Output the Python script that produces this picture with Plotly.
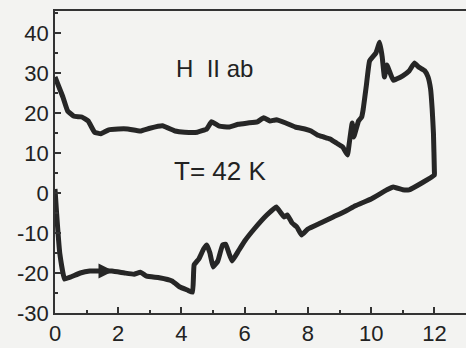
import plotly.graph_objects as go

# lower branch (field increasing)
lower_x = [0, 0.05, 0.15, 0.3, 0.5, 0.8, 1.1, 1.4, 1.8, 2.2, 2.5, 2.7, 2.9, 3.3, 3.7, 3.95, 4.2, 4.35,
           4.4, 4.55, 4.7, 4.8, 4.9, 5.0, 5.15, 5.3, 5.4, 5.5, 5.6, 5.8, 6.0, 6.3, 6.7, 7.0, 7.1, 7.25,
           7.35, 7.5, 7.65, 7.8, 8.0, 8.4, 8.8, 9.2, 9.5, 10.0, 10.5, 10.7, 11.0, 11.2, 11.6, 12.0]
lower_y = [1, -5, -15, -21.5, -21, -20, -19.5, -19.5, -19.5, -20, -20.3, -19.8, -20.8, -21.2, -22, -23.5,
           -24.3, -24.8, -18, -16.5, -14, -13, -15, -18.5, -17, -13, -12.8, -15, -17, -14.5, -12, -9,
           -5.5, -3.5, -4.5, -6, -5.5, -7.5, -8.5, -10.5, -9, -7.5, -6, -4.5, -3.2, -1.5, 0.8, 1.5,
           0.8, 0.8, 2.5, 4.5]

# upper branch (field decreasing)
upper_x = [12.0, 11.97, 11.93, 11.88, 11.8, 11.7, 11.5, 11.37, 11.2, 11.0, 10.8, 10.7, 10.6, 10.5,
           10.42, 10.35, 10.27, 10.15, 9.95, 9.85, 9.75, 9.7, 9.6, 9.45, 9.4, 9.3, 9.25, 9.1, 8.9,
           8.7, 8.5, 8.3, 8.1, 7.9, 7.6, 7.3, 7.0, 6.8, 6.6, 6.4, 6.1, 5.8, 5.5, 5.2, 4.95, 4.8, 4.5,
           4.1, 3.8, 3.4, 3.0, 2.7, 2.3, 2.0, 1.7, 1.45, 1.25, 1.05, 0.85, 0.6, 0.4, 0.25, 0.1, 0]
upper_y = [5.5, 15, 21, 26, 29, 30.5, 31.5, 32.5, 30.5, 29.3, 28.5, 28.2, 30, 32, 29, 34, 37.7, 35,
           33, 27, 21, 19, 18, 14, 17.5, 12, 9.5, 11.5, 12.5, 13.5, 14, 14.5, 15.5, 16, 16.5, 17.5,
           18.3, 18, 18.8, 17.8, 17.5, 17.2, 16.5, 16.7, 17.8, 16, 15.2, 15.2, 15.5, 16.8, 16.2, 15.5,
           16, 16, 15.8, 14.8, 15.2, 18, 19, 19.2, 20.5, 24, 27, 29]

x_ticks = [0, 2, 4, 6, 8, 10, 12]
x_labels = ["0", "2", "4", "6", "8", "10", "12"]
y_ticks = [-30, -20, -10, 0, 10, 20, 30, 40]
y_labels = ["-30", "-20", "-10", "0", "10", "20", "30", "40"]

line_col = "#262626"
bg = "#f3f3f1"
font = dict(family="Liberation Sans, Arial, sans-serif", size=22, color="#222")

fig = go.Figure()
fig.add_trace(go.Scatter(x=lower_x + upper_x, y=lower_y + upper_y, mode="lines",
                         line=dict(color=line_col, width=5, shape="spline", smoothing=0.3),
                         showlegend=False))

fig.add_annotation(x=1.85, y=-19.5, ax=1.2, ay=-19.5, xref="x", yref="y", axref="x", ayref="y",
                   showarrow=True, arrowhead=2, arrowsize=1, arrowwidth=3, arrowcolor=line_col, text="")
fig.add_annotation(x=3.75, y=31.1, text="H  II ab", showarrow=False, xanchor="left",
                   font=dict(family=font["family"], size=24, color="#222"))
fig.add_annotation(x=3.7, y=5.4, text="T= 42 K", showarrow=False, xanchor="left",
                   font=dict(family=font["family"], size=26, color="#222"))

fig.update_layout(
    width=466, height=348,
    margin=dict(l=55, r=0, t=11, b=35),
    paper_bgcolor=bg, plot_bgcolor=bg,
    font=font,
    xaxis=dict(range=[0, 13], tickvals=x_ticks, ticktext=x_labels, ticks="inside", ticklen=6,
               tickwidth=1.5, tickcolor="#333", showline=True, linecolor="#333", linewidth=1.8,
               mirror=True, showgrid=False, zeroline=False, automargin=False,
               minor=dict(ticks="inside", ticklen=3, dtick=1, tickcolor="#333", showgrid=False)),
    yaxis=dict(range=[-30, 45.5], tickvals=y_ticks, ticktext=y_labels, ticks="inside", ticklen=6,
               tickwidth=1.5, tickcolor="#333", showline=True, linecolor="#333", linewidth=1.8,
               mirror=False, showgrid=False, zeroline=False, automargin=False,
               minor=dict(ticks="inside", ticklen=3, dtick=5, tickcolor="#333", showgrid=False)),
)

fig.write_html("out.html", config={"displayModeBar": False},
               post_script="document.body.style.margin='0';document.body.style.overflow='hidden';")
